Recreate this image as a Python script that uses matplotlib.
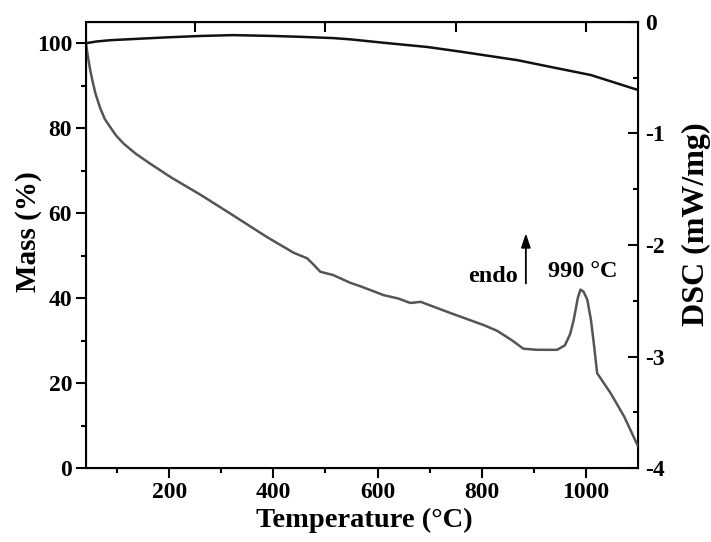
import matplotlib
matplotlib.use('Agg')
import matplotlib.pyplot as plt

plt.rcParams['font.family'] = 'Liberation Serif'
plt.rcParams['font.weight'] = 'bold'

# mass curve (left axis)
tempMass = [40, 60, 86, 150, 200, 260, 323, 400, 452, 515, 548, 612, 696, 760, 869, 933, 1010, 1100]
mass = [100.0, 100.4, 100.7, 101.1, 101.4, 101.7, 101.9, 101.7, 101.5, 101.2, 100.9, 100.1, 99.1, 98.0,
        96.0, 94.4, 92.5, 89.0]

# DSC curve (right axis)
tempDsc = [40, 42, 45, 48, 52, 58, 67, 76, 86, 98, 112, 135, 163, 202, 260, 311, 388, 439, 465, 478, 490,
           515, 548, 567, 612, 640, 663, 683, 740, 805, 830, 860, 880, 906, 945, 960, 970, 977, 985, 990,
           996, 1003, 1010, 1016, 1022, 1048, 1074, 1100]
dsc = [-0.19, -0.26, -0.35, -0.43, -0.52, -0.64, -0.77, -0.87, -0.94, -1.02, -1.09, -1.18, -1.27, -1.39,
       -1.55, -1.70, -1.93, -2.07, -2.12, -2.18, -2.24, -2.27, -2.34, -2.37, -2.45, -2.48, -2.52, -2.51,
       -2.61, -2.72, -2.77, -2.86, -2.93, -2.94, -2.94, -2.90, -2.80, -2.67, -2.47, -2.40, -2.42, -2.49,
       -2.67, -2.90, -3.15, -3.33, -3.54, -3.80]

fig = plt.figure(figsize=(7.11, 5.42), dpi=100)
ax = fig.add_axes([0.121, 0.1365, 0.776, 0.823])
ax.plot(tempMass, mass, color='#111111', linewidth=1.8)
ax.set_xlim(40, 1100)
ax.set_ylim(0, 105)
ax.set_xticks([200, 400, 600, 800, 1000])
ax.set_xticks([100, 300, 500, 700, 900], minor=True)
ax.set_yticks([0, 20, 40, 60, 80, 100])
ax.set_yticks([10, 30, 50, 70, 90], minor=True)
ax.tick_params(which='major', direction='out', length=7, width=1.5, labelsize=17, pad=3,
               right=False, top=False)
ax.tick_params(which='minor', direction='out', length=3.5, width=1.5, right=False, top=False)
ax.set_xlabel('Temperature (\u00b0C)', fontsize=20.5, fontweight='bold')
ax.set_ylabel('Mass (%)', fontsize=21, fontweight='bold')
ax.xaxis.set_label_coords(0.504, -0.09)
ax.yaxis.set_label_coords(-0.08, 0.529)
for s in ax.spines.values():
    s.set_linewidth(1.5)

top = ax.secondary_xaxis('top')
top.set_xticks([250, 500, 750, 1000])
top.tick_params(direction='in', length=7, width=1.5, labeltop=False)

ax2 = ax.twinx()
ax2.plot(tempDsc, dsc, color='#555555', linewidth=1.8)
ax2.set_ylim(-4, 0)
ax2.set_yticks([-4, -3, -2, -1, 0])
ax2.set_yticklabels(['-4', '-3', '-2', '-1', '0'])
ax2.set_yticks([-3.5, -2.5, -1.5, -0.5], minor=True)
ax2.tick_params(which='major', direction='in', length=7, width=1.5, labelsize=17, pad=5)
ax2.tick_params(which='minor', direction='in', length=3.5, width=1.5)
ax2.set_ylabel('DSC (mW/mg)', fontsize=23, fontweight='bold')
ax2.yaxis.set_label_coords(1.08, 0.547)

ax2.annotate('', xy=(885, -1.87), xytext=(885, -2.37),
             arrowprops=dict(arrowstyle='-|>,head_length=0.6,head_width=0.2', color='black', lw=1.3,
                             mutation_scale=14))
ax2.text(869, -2.28, 'endo', fontsize=17.5, fontweight='bold', ha='right', va='center')
ax2.text(994, -2.24, '990 \u00b0C', fontsize=17.5, fontweight='bold', ha='center', va='center')

fig.savefig('out.png', dpi=100)
